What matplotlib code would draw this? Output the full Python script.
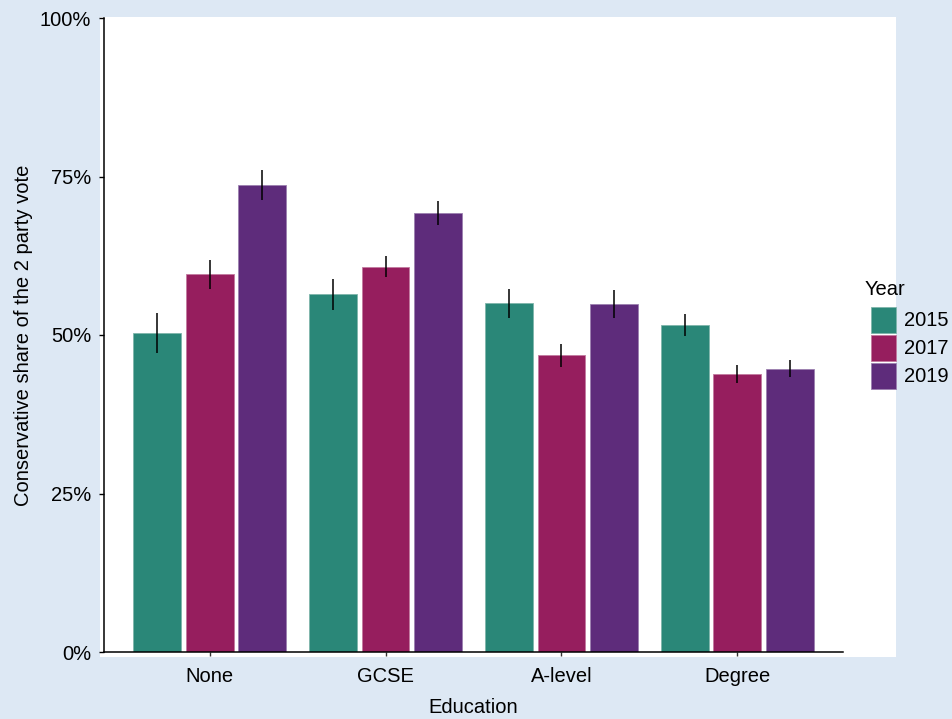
import matplotlib
matplotlib.use("Agg")
import matplotlib.pyplot as plt
import numpy as np
from matplotlib.patches import Rectangle
from matplotlib.ticker import PercentFormatter

plt.rcParams['font.family'] = ['Liberation Sans', 'DejaVu Sans']

# Data: Conservative share of the two-party vote by education level
education = ["None", "GCSE", "A-level", "Degree"]
years = ["2015", "2017", "2019"]
share_2015 = [50.3, 56.4, 55.0, 51.6]
share_2017 = [59.6, 60.8, 46.8, 43.8]
share_2019 = [73.7, 69.3, 54.9, 44.7]
err_2015 = [3.1, 2.4, 2.3, 1.7]
err_2017 = [2.3, 1.7, 1.85, 1.4]
err_2019 = [2.35, 1.9, 2.2, 1.35]

colors = ["#2a8778", "#961e5e", "#5e2c7b"]
edge_colors = ["#7fb5ab", "#c27a9f", "#9c80b0"]
bg = "#dde8f4"

W, H = 952, 719
fig = plt.figure(figsize=(W / 100, H / 100), dpi=100, facecolor=bg)

# white plotting panel behind the axes
fig.patches.append(Rectangle((100 / W, 1 - 657 / H), 796 / W, 640 / H,
                             transform=fig.transFigure, facecolor="white",
                             edgecolor="none", zorder=-5))

ax = fig.add_axes([104 / W, 1 - 652 / H, 739 / W, 634 / H])
ax.set_facecolor("white")

x = np.arange(len(education))
pitch = 0.3
bar_w = 0.272
series = [share_2015, share_2017, share_2019]
errors = [err_2015, err_2017, err_2019]
for i, (vals, errs) in enumerate(zip(series, errors)):
    pos = x + (i - 1) * pitch
    ax.bar(pos, vals, width=bar_w, color=colors[i], edgecolor=edge_colors[i],
           linewidth=0.6, zorder=2)
    ax.errorbar(pos, vals, yerr=errs, fmt="none", ecolor="black",
                elinewidth=1.1, capsize=0, zorder=3)

ax.set_xlim(-0.6, 3.6)
ax.set_ylim(0, 100)
ax.set_xticks(x)
ax.set_xticklabels(education)
ax.set_yticks([0, 25, 50, 75, 100])
ax.yaxis.set_major_formatter(PercentFormatter(decimals=0))

for side in ["top", "right"]:
    ax.spines[side].set_visible(False)
for side in ["left", "bottom"]:
    ax.spines[side].set_linewidth(1.1)
    ax.spines[side].set_color("black")

ax.tick_params(axis="y", length=3.6, width=1.0, pad=5.5, labelsize=14.5,
               colors="black")
ax.tick_params(axis="x", length=3.0, width=1.0, pad=7.5, labelsize=14.5,
               colors="#333333", labelcolor="black")

ax.set_ylabel("Conservative share of the 2 party vote", fontsize=14.5)
ax.set_xlabel("Education", fontsize=14.5)
ax.yaxis.set_label_coords((33 - 104) / 739, 0.5)
ax.xaxis.set_label_coords(0.5, (652 - 698) / 634)

# legend: title, colour keys and year labels laid out in pixel units
fig.text(865 / W, 1 - 289 / H, "Year", fontsize=14.5, va="center", ha="left")
key_left, key_w, key_h, key_top, key_step = 871, 25, 26, 307, 28
for i, (yr, c, e) in enumerate(zip(years, colors, edge_colors)):
    top = key_top + i * key_step
    fig.patches.append(Rectangle((key_left / W, 1 - (top + key_h) / H),
                                 key_w / W, key_h / H,
                                 transform=fig.transFigure, facecolor=c,
                                 edgecolor=e, linewidth=0.6, zorder=3))
    fig.text((key_left + key_w + 8) / W, 1 - (top + key_h / 2) / H, yr,
             fontsize=14.5, va="center", ha="left")

fig.savefig("out.png", dpi=100, facecolor=bg)
